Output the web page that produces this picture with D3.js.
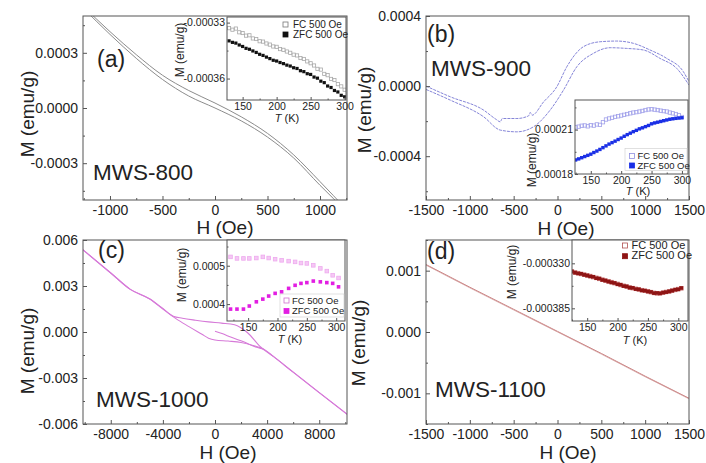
<!DOCTYPE html>
<html><head><meta charset="utf-8">
<script src="https://cdn.jsdelivr.net/npm/d3@7/dist/d3.min.js"></script>
<style>
html,body{margin:0;padding:0;background:#fff;}
svg{display:block;font-family:"Liberation Sans",Arial,Helvetica,sans-serif;}
</style></head><body>
<svg id="c" width="706" height="463"></svg>
<script>
// ---------------- DATA ----------------
// Panel (a) MWS-800 hysteresis
const aH      = [-1250, -1000, -750, -500, -250, 0, 250, 500, 750, 1000, 1250];
const aUpper  = [0.00055, 0.000415, 0.00029, 0.000178, 0.000095, 0.000027, -0.000048, -0.000138, -0.000255, -0.000400, -0.00055];
const aLower  = [0.00054, 0.000400, 0.00027, 0.000155, 0.000065, 0.000000, -0.000070, -0.000158, -0.000272, -0.000420, -0.00056];
const aT   = [130,135,140,145,150,155,160,165,170,175,180,185,190,195,200,205,210,215,220,225,230,235,240,245,250,255,260,265,270,275,280,285,290,295,300];
const aFC  = [-0.0003330,-0.0003338,-0.0003332,-0.0003352,-0.0003356,-0.0003370,-0.0003368,-0.0003385,-0.0003388,-0.0003400,-0.0003402,-0.0003412,-0.0003418,-0.0003428,-0.0003430,-0.0003442,-0.0003446,-0.0003455,-0.0003462,-0.0003472,-0.0003476,-0.0003490,-0.0003495,-0.0003508,-0.0003518,-0.0003530,-0.0003548,-0.0003552,-0.0003575,-0.0003582,-0.0003602,-0.0003608,-0.0003630,-0.0003642,-0.0003660];
const aZFC = [-0.0003398,-0.0003406,-0.0003410,-0.0003420,-0.0003428,-0.0003438,-0.0003443,-0.0003452,-0.0003460,-0.0003470,-0.0003476,-0.0003485,-0.0003493,-0.0003502,-0.0003506,-0.0003514,-0.0003520,-0.0003528,-0.0003533,-0.0003542,-0.0003546,-0.0003558,-0.0003563,-0.0003574,-0.0003578,-0.0003592,-0.0003598,-0.0003614,-0.0003622,-0.0003640,-0.0003648,-0.0003664,-0.0003672,-0.0003690,-0.0003698];

// Panel (b) MWS-900
const bHUpper = [-1500,-1223,-843,-700,-653,-630,-463,-330,-311,-290,-160,-8,106,296,486,676,866,1056,1246,1436,1500];
const bMUpper = [0.0,-0.000061,-0.000137,-0.000190,-0.000204,-0.000185,-0.000185,-0.000170,-0.000150,-0.000166,-0.000091,-0.000004,0.000110,0.000225,0.000253,0.000257,0.000244,0.000206,0.000158,0.000082,0.000025];
const bHLower = [-1500,-1223,-843,-653,-463,-273,-84,68,220,410,600,790,980,1170,1360,1500];
const bMLower = [-0.000019,-0.000080,-0.000175,-0.000251,-0.000261,-0.000232,-0.000137,-0.000023,0.000110,0.000187,0.000219,0.000215,0.000206,0.000158,0.000101,0.000006];
const bT   = [125,130,135,140,145,150,155,160,165,170,175,180,185,190,195,200,205,210,215,220,225,230,235,240,245,250,255,260,265,270,275,280,285,290,295,300];
const bFC  = [0.0002115,0.0002120,0.0002126,0.0002128,0.0002122,0.0002130,0.0002127,0.0002135,0.0002132,0.0002150,0.0002168,0.0002175,0.0002180,0.0002186,0.0002190,0.0002195,0.0002200,0.0002205,0.0002210,0.0002215,0.0002218,0.0002222,0.0002226,0.0002232,0.0002236,0.0002238,0.0002235,0.0002232,0.0002228,0.0002225,0.0002222,0.0002215,0.0002210,0.0002205,0.0002198,0.0002185];
const bZFC = [0.0001895,0.0001902,0.0001910,0.0001918,0.0001926,0.0001934,0.0001945,0.0001955,0.0001966,0.0001978,0.0001990,0.0002002,0.0002012,0.0002022,0.0002033,0.0002043,0.0002055,0.0002066,0.0002076,0.0002086,0.0002095,0.0002105,0.0002112,0.0002120,0.0002128,0.0002139,0.0002145,0.0002150,0.0002155,0.0002160,0.0002165,0.0002170,0.0002173,0.0002176,0.0002178,0.0002180];

// Panel (c) MWS-1000
const cHUpper = [10150, 8000, 6000, 4500, 3500, 2500, 1500, 500, -500, -1500, -2500, -3200, -4000, -5000, -6500, -8000, -10150];
const cMUpper = [-0.00537,-0.00395,-0.00262,-0.00161,-0.00098,-0.00005,0.00047,0.00058,0.00066,0.00077,0.00090,0.00103,0.00153,0.00215,0.00278,0.00385,0.00537];
const cHLower = [-10150,-8000,-6500,-5000,-4000,-3000,-2000,-1000,-500,0,1000,2000,3000,3800,4500,6000,8000,10150];
const cMLower = [0.00537,0.00385,0.00278,0.00215,0.00150,0.00087,0.00035,-0.00015,-0.00040,-0.00052,-0.00059,-0.00068,-0.00090,-0.00115,-0.00161,-0.00262,-0.00395,-0.00537];
const cHInit = [0, 600, 1200, 2200, 3200, 3800];
const cMInit = [0.00005,-0.00012,-0.00033,-0.00064,-0.00100,-0.00114];
const cT   = [120,131,142,152,164,175,185,196,207,219,230,240,250,261,273,284,294,304];
const cFC  = [0.000523,0.000519,0.000519,0.000519,0.000520,0.000523,0.000520,0.000517,0.000514,0.000512,0.000510,0.000507,0.000506,0.000501,0.000493,0.000486,0.000475,0.000468];
const cZFC = [0.000387,0.000387,0.000387,0.000395,0.000406,0.000413,0.000421,0.000428,0.000432,0.000441,0.000449,0.000454,0.000456,0.000460,0.000458,0.000456,0.000454,0.000445];

// Panel (d) MWS-1100
const dH     = [-1500,-1000,-500,0,500,1000,1500];
const dUpper = [0.00110,0.00073,0.00037,0.00001,-0.00035,-0.00072,-0.00108];
const dLower = [0.00109,0.00072,0.00036,0.00000,-0.00036,-0.00073,-0.00109];
const dT   = [125,130,135,140,145,150,155,160,165,170,175,180,185,190,195,200,205,210,215,220,225,230,235,240,245,250,255,260,265,270,275,280,285,290,295,300,305];
const dFC  = [-0.0003403,-0.0003412,-0.0003420,-0.0003430,-0.0003438,-0.0003447,-0.0003456,-0.0003468,-0.0003478,-0.0003490,-0.0003500,-0.0003512,-0.0003520,-0.0003530,-0.0003542,-0.0003552,-0.0003565,-0.0003575,-0.0003585,-0.0003595,-0.0003603,-0.0003612,-0.0003620,-0.0003628,-0.0003636,-0.0003642,-0.0003652,-0.0003662,-0.0003667,-0.0003665,-0.0003660,-0.0003650,-0.0003645,-0.0003632,-0.0003625,-0.0003615,-0.0003605];
const dZFC = [-0.0003398,-0.0003415,-0.0003424,-0.0003428,-0.0003441,-0.0003450,-0.0003460,-0.0003465,-0.0003482,-0.0003486,-0.0003503,-0.0003510,-0.0003524,-0.0003534,-0.0003540,-0.0003556,-0.0003562,-0.0003578,-0.0003582,-0.0003598,-0.0003600,-0.0003615,-0.0003618,-0.0003631,-0.0003634,-0.0003645,-0.0003650,-0.0003664,-0.0003663,-0.0003668,-0.0003657,-0.0003652,-0.0003642,-0.0003635,-0.0003622,-0.0003618,-0.0003602];

// Tick values / labels
const aXTicks = [-1000,-500,0,500,1000], aXMinor = [-1250,-750,-250,250,750,1250];
const aYTicks = [-0.0003,0,0.0003], aYLabels = ["-0.0003","0.0000","0.0003"], aYMinor = [-0.00045,-0.00015,0.00015,0.00045];
const bXTicks = [-1500,-1000,-500,0,500,1000,1500], bXMinor = [-1250,-750,-250,250,750,1250];
const bYTicks = [-0.0004,0,0.0004], bYLabels = ["-0.0004","0.0000","0.0004"], bYMinor = [-0.0006,-0.0002,0.0002];
const cXTicks = [-8000,-4000,0,4000,8000], cXMinor = [-10000,-6000,-2000,2000,6000,10000];
const cYTicks = [-0.006,-0.003,0,0.003,0.006], cYLabels = ["-0.006","-0.003","0.000","0.003","0.006"], cYMinor = [-0.0045,-0.0015,0.0015,0.0045];
const dXTicks = bXTicks, dXMinor = bXMinor;
const dYTicks = [-0.001,0,0.001], dYLabels = ["-0.001","0.000","0.001"], dYMinor = [-0.0015,-0.0005,0.0005,0.0015];
const insTTicks = [150,200,250,300], insTMinor = [125,175,225,275];
const aiYTicks = [-0.00036,-0.00033], aiYLabels = ["-0.00036","-0.00033"], aiYMinor = [-0.000345];
const biYTicks = [0.00018,0.00021], biYLabels = ["0.00018","0.00021"], biYMinor = [0.000195,0.000225];
const ciYTicks = [0.0004,0.0005], ciYLabels = ["0.0004","0.0005"], ciYMinor = [0.00045,0.00055];
const diYTicks = [-0.000385,-0.00033], diYLabels = ["-0.000385","-0.000330"], diYMinor = [-0.0003575];
const legendLabels = ["FC 500 Oe","ZFC 500 Oe"];

// ---------------- DRAW ----------------
const svg = d3.select("#c");
const AX = "#555", TXT = "#222";
let clipId = 0;

function zip(xs, ys){ return xs.map((x,i)=>[x, ys[i]]).sort((p,q)=>p[0]-q[0]); }
function zipRaw(xs, ys){ return xs.map((x,i)=>[x, ys[i]]); }

function frame(g, x, y, o){
  const [x0,x1] = x.range(), [y1,y0] = y.range();
  const fmtMap = (ticks, labels) => d => labels ? labels[ticks.indexOf(d)] : d;
  const bx = g.append("g").attr("transform",`translate(0,${y1})`)
    .call(d3.axisBottom(x).tickValues(o.xt).tickSizeInner(-o.tl).tickSizeOuter(0).tickPadding(o.xpad).tickFormat(o.xf || (d=>d)));
  const bxm = g.append("g").attr("transform",`translate(0,${y1})`)
    .call(d3.axisBottom(x).tickValues(o.xm.filter(v=>v>=x.domain()[0]&&v<=x.domain()[1])).tickSizeInner(-o.tl/2).tickSizeOuter(0).tickFormat(""));
  const ly = g.append("g").attr("transform",`translate(${x0},0)`)
    .call(d3.axisLeft(y).tickValues(o.yt).tickSizeInner(-o.tl).tickSizeOuter(0).tickPadding(o.ypad).tickFormat(fmtMap(o.yt,o.yl)));
  const lym = g.append("g").attr("transform",`translate(${x0},0)`)
    .call(d3.axisLeft(y).tickValues(o.ym.filter(v=>v>=y.domain()[0]&&v<=y.domain()[1])).tickSizeInner(-o.tl/2).tickSizeOuter(0).tickFormat(""));
  [bxm, lym].forEach(a=>a.selectAll("text").remove());
  [bx,bxm,ly,lym].forEach(a=>{
    a.select(".domain").remove();
    a.selectAll("line").attr("stroke",AX);
    a.selectAll("text").attr("fill",TXT).attr("font-size",o.fs).attr("font-family",null);
  });
  g.append("rect").attr("x",x0).attr("y",y0).attr("width",x1-x0).attr("height",y1-y0)
    .attr("fill","none").attr("stroke",AX).attr("stroke-width",1);
}

function makeClip(x,y){
  const id = "clip"+(clipId++);
  const [x0,x1] = x.range(), [y1,y0] = y.range();
  svg.append("clipPath").attr("id",id).append("rect").attr("x",x0).attr("y",y0).attr("width",x1-x0).attr("height",y1-y0);
  return `url(#${id})`;
}

function mainPanel(geo, xd, yd, curves, ticks, txt){
  const g = svg.append("g");
  const x = d3.scaleLinear().domain(xd).range([geo.x0, geo.x1]);
  const y = d3.scaleLinear().domain(yd).range([geo.y1, geo.y0]);
  g.append("rect").attr("x",geo.x0).attr("y",geo.y0).attr("width",geo.x1-geo.x0).attr("height",geo.y1-geo.y0).attr("fill","#fff");
  const cp = makeClip(x,y);
  const cg = g.append("g").attr("clip-path",cp);
  curves.forEach(c=>{
    const line = d3.line().x(d=>x(d[0])).y(d=>y(d[1])).curve(c.curve || d3.curveMonotoneX);
    cg.append("path").attr("d",line(c.pts)).attr("fill","none").attr("stroke",c.color).attr("stroke-width",c.w||1)
      .attr("stroke-dasharray",c.dash||null).attr("stroke-linejoin","round");
  });
  frame(g, x, y, {xt:ticks.xt, xm:ticks.xm, yt:ticks.yt, yl:ticks.yl, ym:ticks.ym, tl:4, xpad:5, ypad:5, fs:14});
  g.append("text").attr("x",txt.hx).attr("y",txt.hy).attr("text-anchor","middle").attr("font-size",19).attr("fill",TXT).text("H (Oe)");
  g.append("text").attr("transform",`translate(${txt.mx},${txt.my}) rotate(-90)`).attr("dy","0.35em")
    .attr("text-anchor","middle").attr("font-size",19).attr("fill",TXT).text("M (emu/g)");
  g.append("text").attr("x",txt.px).attr("y",txt.py).attr("font-size",23).attr("fill",TXT).text(txt.panel);
  g.append("text").attr("x",txt.sx).attr("y",txt.sy).attr("font-size",22.5).attr("fill",TXT).text(txt.sample);
}

function inset(geo, td, md, fc, zfc, ticks, sty, txt, leg){
  const g = svg.append("g");
  const x = d3.scaleLinear().domain(td).range([geo.x0, geo.x1]);
  const y = d3.scaleLinear().domain(md).range([geo.y1, geo.y0]);
  g.append("rect").attr("x",geo.x0).attr("y",geo.y0).attr("width",geo.x1-geo.x0).attr("height",geo.y1-geo.y0).attr("fill","#fff");
  const cp = makeClip(x,y);
  const dg = g.append("g").attr("clip-path",cp);
  const s = sty.size;
  const drawSet = (pts, f, st) => dg.append("g").selectAll("rect").data(pts).join("rect")
      .attr("x",d=>x(d[0])-s/2).attr("y",d=>y(d[1])-s/2).attr("width",s).attr("height",s)
      .attr("fill",f).attr("stroke",st).attr("stroke-width",st==="none"?0:0.8);
  drawSet(fc, sty.fcFill, sty.fcStroke); drawSet(zfc, sty.zfcFill, "none");
  frame(g, x, y, {xt:insTTicks, xm:insTMinor, yt:ticks.yt, yl:ticks.yl, ym:ticks.ym, tl:3, xpad:sty.xpad, ypad:2, fs:10.5});
  g.append("text").attr("transform",`translate(${txt.mx},${txt.my}) rotate(-90)`).attr("dy","0.35em")
    .attr("text-anchor","middle").attr("font-size",12).attr("fill",TXT).text("M (emu/g)");
  const tt = g.append("text").attr("x",txt.tx).attr("y",txt.ty).attr("text-anchor","middle").attr("font-size",11).attr("fill",TXT);
  tt.append("tspan").attr("font-style","italic").text("T");
  tt.append("tspan").text(" (K)");
  const lg = g.append("g");
  if (leg.box) lg.append("rect").attr("x",leg.box[0]).attr("y",leg.box[1]).attr("width",leg.box[2]).attr("height",leg.box[3])
      .attr("fill","#fff").attr("stroke","#ccc").attr("stroke-width",0.6);
  legendLabels.forEach((lab,i)=>{
    const yy = leg.y + i*leg.dy;
    lg.append("rect").attr("x",leg.x).attr("y",yy-5).attr("width",5).attr("height",5)
      .attr("fill", i===0 ? "#fff" : sty.zfcFill).attr("stroke", i===0 ? sty.legStroke : sty.zfcFill).attr("stroke-width",0.8);
    lg.append("text").attr("x",leg.x+leg.gap).attr("y",yy+0.5).attr("font-size",leg.fs).attr("fill",TXT).text(lab);
  });
}

// ---- Panel (a)
mainPanel({x0:83,x1:347,y0:16,y1:200}, [-1257,1257], [-0.0005,0.0005],
  [{pts:zip(aH,aUpper), color:"#8c8c8c", w:1}, {pts:zip(aH,aLower), color:"#8c8c8c", w:1}],
  {xt:aXTicks, xm:aXMinor, yt:aYTicks, yl:aYLabels, ym:aYMinor},
  {hx:225,hy:234, mx:27,my:114, px:97,py:67, panel:"(a)", sx:93,sy:180, sample:"MWS-800"});
inset({x0:227,x1:346,y0:17,y1:100}, [127,302], [-0.0003715,-0.000327],
  zipRaw(aT,aFC), zipRaw(aT,aZFC), {yt:aiYTicks, yl:aiYLabels, ym:aiYMinor},
  {size:3.2, fcFill:"none", fcStroke:"#a8a8a8", zfcFill:"#111", legStroke:"#777", xpad:3},
  {mx:180,my:50, tx:287,ty:122},
  {x:283, y:27, dy:10, gap:10, fs:10});

// ---- Panel (b)
mainPanel({x0:426,x1:689,y0:16,y1:200}, [-1500,1500], [-0.00065,0.0004],
  [{pts:zip(bHUpper,bMUpper), color:"#8585d8", w:1, dash:"3,1"}, {pts:zip(bHLower,bMLower), color:"#8585d8", w:1, dash:"3,1"}],
  {xt:bXTicks, xm:bXMinor, yt:bYTicks, yl:bYLabels, ym:bYMinor},
  {hx:566,hy:235, mx:364,my:110, px:427,py:41.5, panel:"(b)", sx:431,sy:76, sample:"MWS-900"});
inset({x0:575,x1:688,y0:100,y1:174}, [124,310], [0.00018,0.00023],
  zipRaw(bT,bFC), zipRaw(bT,bZFC), {yt:biYTicks, yl:biYLabels, ym:biYMinor},
  {size:3.4, fcFill:"none", fcStroke:"#a0a0ea", zfcFill:"#1a2fe6", legStroke:"#8f8fe0", xpad:3},
  {mx:532,my:160, tx:638,ty:195},
  {x:629.5, y:158.5, dy:9.5, gap:8, fs:9.5, box:[625,148.5,62,22]});

// ---- Panel (c)
mainPanel({x0:83,x1:347,y0:240,y1:424}, [-10130,10130], [-0.006,0.006],
  [{pts:zip(cHUpper,cMUpper), color:"#d67ad8", w:1.1}, {pts:zip(cHLower,cMLower), color:"#d67ad8", w:1.1},
   {pts:zip(cHInit,cMInit), color:"#d67ad8", w:1.1}],
  {xt:cXTicks, xm:cXMinor, yt:cYTicks, yl:cYLabels, ym:cYMinor},
  {hx:228,hy:458.5, mx:27,my:351, px:98,py:257.5, panel:"(c)", sx:96,sy:406.5, sample:"MWS-1000"});
inset({x0:227,x1:345,y0:240,y1:321}, [114,315], [0.000356,0.000567],
  zipRaw(cT,cFC), zipRaw(cT,cZFC), {yt:ciYTicks, yl:ciYLabels, ym:ciYMinor},
  {size:3.6, fcFill:"#f5c8f5", fcStroke:"#eeaaee", zfcFill:"#e21ee2", legStroke:"#d070d0", xpad:3},
  {mx:182,my:275, tx:290,ty:343},
  {x:284, y:303, dy:10.5, gap:8, fs:9.5, box:[280,294,64,23]});

// ---- Panel (d)
mainPanel({x0:426,x1:689,y0:240,y1:424}, [-1500,1500], [-0.0015,0.0015],
  [{pts:zip(dH,dUpper), color:"#c97f7f", w:1}, {pts:zip(dH,dLower), color:"#d29a9a", w:0.8}],
  {xt:dXTicks, xm:dXMinor, yt:dYTicks, yl:dYLabels, ym:dYMinor},
  {hx:568,hy:458.5, mx:358,my:343, px:427,py:259, panel:"(d)", sx:435,sy:396.5, sample:"MWS-1100"});
inset({x0:572,x1:688,y0:240,y1:321}, [125,316], [-0.0004005,-0.0003015],
  zipRaw(dT,dFC), zipRaw(dT,dZFC), {yt:diYTicks, yl:diYLabels, ym:diYMinor},
  {size:3.6, fcFill:"none", fcStroke:"#c06060", zfcFill:"#8e1414", legStroke:"#b05050", xpad:3},
  {mx:512,my:272, tx:635,ty:344},
  {x:622.5, y:248, dy:10.7, gap:9, fs:11});
</script>
</body></html>
